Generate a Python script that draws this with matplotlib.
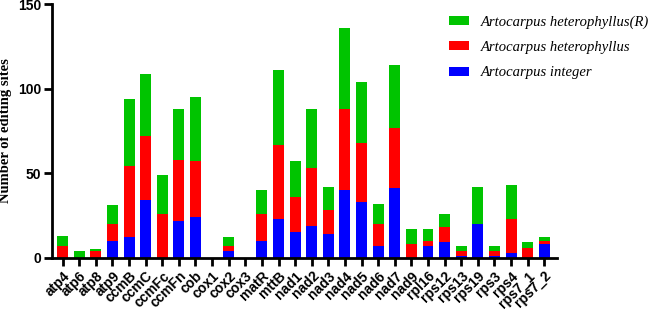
import matplotlib
matplotlib.use("Agg")
from matplotlib import pyplot as plt
from matplotlib.patches import Patch
import numpy as np

genes = ["atp4", "atp6", "atp8", "atp9", "ccmB", "ccmC", "ccmFc", "ccmFn", "cob", "cox1",
         "cox2", "cox3", "matR", "mttB", "nad1", "nad2", "nad3", "nad4", "nad5", "nad6",
         "nad7", "nad9", "rpl16", "rps12", "rps13", "rps19", "rps3", "rps4", "rps7_1", "rps7_2"]

# segment values (bottom -> top)
integer = [0, 0, 0, 10, 12, 34, 0, 22, 24, 0,
           4, 0, 10, 23, 15, 19, 14, 40, 33, 7,
           41, 0, 7, 9, 1, 20, 1, 3, 0, 8]
hetero = [7, 0, 4, 10, 42, 38, 26, 36, 33, 0,
          3, 0, 16, 44, 21, 34, 14, 48, 35, 13,
          36, 8, 3, 9, 3, 0, 3, 20, 6, 2]
hetero_r = [6, 4, 1, 11, 40, 37, 23, 30, 38, 0,
            5, 0, 14, 44, 21, 35, 14, 48, 36, 12,
            37, 9, 7, 8, 3, 22, 3, 20, 3, 2]

labels = ["Artocarpus heterophyllus(R)", "Artocarpus heterophyllus", "Artocarpus integer"]
colors = ["#00c400", "#ff0000", "#0000ff"]

fig = plt.figure(figsize=(6.49, 3.09), dpi=100)
ax = fig.add_axes([52 / 649, 1 - 257.7 / 309, (556.7 - 52) / 649, (257.7 - 4.3) / 309])

x = np.arange(len(genes))
b1 = np.array(integer)
b2 = b1 + np.array(hetero)
w = 0.66
ax.bar(x, integer, w, color=colors[2], linewidth=0)
ax.bar(x, hetero, w, bottom=b1, color=colors[1], linewidth=0)
ax.bar(x, hetero_r, w, bottom=b2, color=colors[0], linewidth=0)

ax.set_xlim(-0.64, len(genes) - 0.25)
ax.set_ylim(0, 150)
ax.set_yticks([0, 50, 100, 150])
ax.set_xticks(x)
ax.set_xticklabels(genes, rotation=45, ha="right", rotation_mode="anchor",
                   fontsize=10, fontweight="bold", family="Liberation Sans")
for t in ax.get_yticklabels():
    t.set_fontsize(10)
    t.set_fontweight("bold")
    t.set_family("Liberation Sans")

for s in ["top", "right"]:
    ax.spines[s].set_visible(False)
for s in ["left", "bottom"]:
    ax.spines[s].set_linewidth(2)
ax.tick_params(axis="both", width=2, length=6, direction="out", pad=2)

ax.set_ylabel("Number of editing sites", fontsize=10.5, fontweight="bold",
              family="Liberation Serif", labelpad=4)

handles = [Patch(facecolor=c) for c in colors]
fig.legend(handles, labels, loc="upper left", bbox_to_anchor=(436 / 649, 1 - 2 / 309),
           frameon=False, prop={"family": "Liberation Serif", "style": "italic", "size": 10.5},
           handlelength=1.35, handleheight=0.6, labelspacing=0.85, handletextpad=0.8)

fig.savefig("out.png", dpi=100)
